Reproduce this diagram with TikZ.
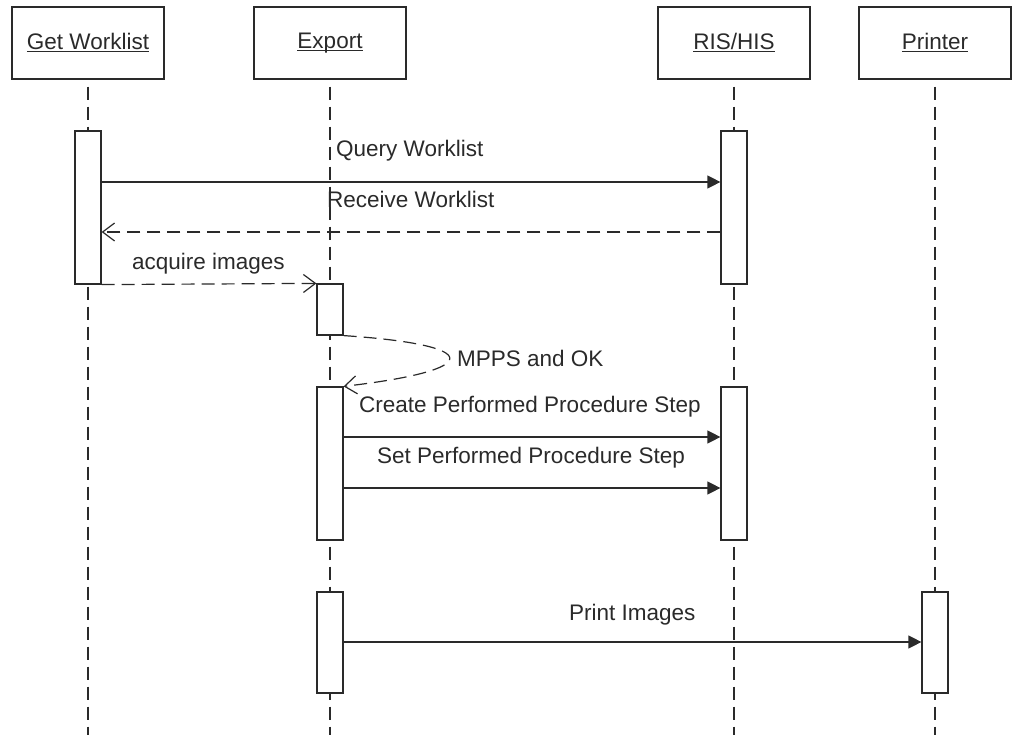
\documentclass[tikz,border=0pt]{standalone}
\usepackage{fontspec}
\setmainfont{Liberation Sans}
\usetikzlibrary{arrows.meta}
\definecolor{ln}{HTML}{2A2A2A}
\newcommand\hul[1]{\setbox0\hbox{#1}\rlap{\rule[-2.5pt]{\wd0}{1pt}}\box0}
\begin{document}
\begin{tikzpicture}[x=1pt,y=-1pt,
  every node/.style={font=\fontsize{22.5}{27}\selectfont, text=ln},
  actor/.style={draw=ln, line width=1.2pt, minimum width=152pt, minimum height=72pt, inner sep=0pt},
  actbar/.style={draw=ln, fill=white, line width=1.2pt, minimum width=26pt, inner sep=0pt},
  life/.style={draw=ln, line width=1.1pt, dash pattern=on 13pt off 7pt, dash phase=13pt},
  call/.style={draw=ln, line width=1.2pt, -{Triangle[length=13pt,width=13pt]}},
  reply/.style={draw=ln, line width=1.2pt, dash pattern=on 13pt off 7pt, -{Straight Barb[length=12pt,width=18pt]}},
  lbl/.style={anchor=base west, inner sep=0pt}]
\useasboundingbox (0,0) rectangle (1013,735);
% actors
\node[actor] (gw) at (88,43) {\hul{Get Worklist}};
\node[actor] (ex) at (330,43) {\hul{Export}};
\node[actor] (ris) at (734,43) {\hul{RIS/HIS}};
\node[actor] (pr) at (935,43) {\hul{Printer}};
% lifeline ends
\coordinate (gwE) at (88,735);
\coordinate (exE) at (330,735);
\coordinate (risE) at (734,735);
\coordinate (prE) at (935,735);
\draw[life] (gw.south) -- (gwE);
\draw[life] (ex.south) -- (exE);
\draw[life] (ris.south) -- (risE);
\draw[life] (pr.south) -- (prE);
% activation bars
\node[actbar, minimum height=153pt] (gwA) at (88,207.5) {};
\node[actbar, minimum height=153pt] (risA) at (734,207.5) {};
\node[actbar, minimum height=51pt] (exA) at (330,309.5) {};
\node[actbar, minimum height=153pt] (exB) at (330,463.5) {};
\node[actbar, minimum height=153pt] (risB) at (734,463.5) {};
\node[actbar, minimum height=101pt] (exC) at (330,642.5) {};
\node[actbar, minimum height=101pt] (prA) at (935,642.5) {};
% messages
\draw[call] (gwA.east |- 0,182) -- (risA.west |- 0,182);
\node[lbl] (l1) at (336,157) {Query Worklist};
\draw[reply] (risA.west |- 0,232) -- (gwA.east |- 0,232);
\node[lbl] (l2) at (327,208) {Receive Worklist};
\draw[reply] (gwA.south east) -- (exA.north west);
\node[lbl] (l3) at (132,270) {acquire images};
\draw[reply] (exA.south east) .. controls (485,345) and (485,370) .. (exB.north east);
\node[lbl] (l4) at (457,367) {MPPS and OK};
\draw[call] (exB.east |- 0,437) -- (risB.west |- 0,437);
\node[lbl] (l5) at (359,413) {Create Performed Procedure Step};
\draw[call] (exB.east |- 0,488) -- (risB.west |- 0,488);
\node[lbl] (l6) at (377,464) {Set Performed Procedure Step};
\draw[call] (exC.east |- 0,642) -- (prA.west |- 0,642);
\node[lbl] (l7) at (569,620) {Print Images};
\end{tikzpicture}
\end{document}
